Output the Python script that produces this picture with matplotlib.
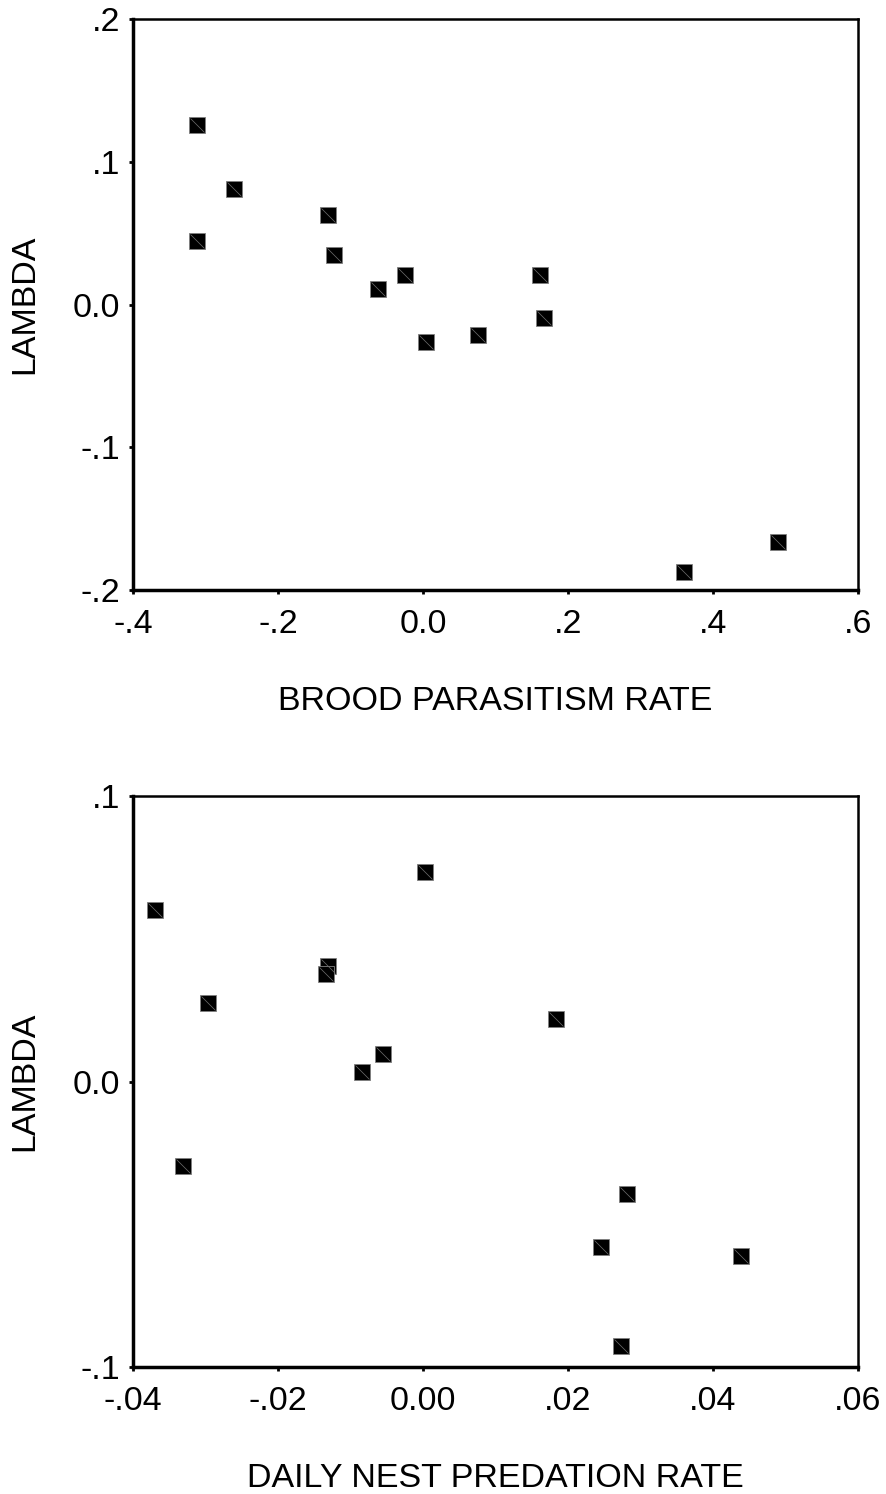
import numpy as np
import matplotlib.pyplot as plt

plt.rcParams['font.family'] = ['Liberation Sans', 'DejaVu Sans']

# top panel: brood parasitism
brood_x = [-0.312, -0.312, -0.261, -0.131, -0.123, -0.062, -0.025, 0.004, 0.076, 0.161, 0.167, 0.360, 0.490]
brood_y = [0.126, 0.045, 0.081, 0.063, 0.035, 0.011, 0.021, -0.026, -0.021, 0.021, -0.009, -0.187, -0.166]
brood_xticks = [-0.4, -0.2, 0.0, 0.2, 0.4, 0.6]
brood_xlabels = ['-.4', '-.2', '0.0', '.2', '.4', '.6']
brood_yticks = [-0.2, -0.1, 0.0, 0.1, 0.2]
brood_ylabels = ['-.2', '-.1', '0.0', '.1', '.2']

# bottom panel: daily nest predation
pred_x = [-0.0370, -0.0297, -0.0331, -0.0131, -0.0134, -0.0084, -0.0055, 0.0003, 0.0183, 0.0281, 0.0246, 0.0439, 0.0274]
pred_y = [0.0600, 0.0276, -0.0297, 0.0406, 0.0378, 0.0033, 0.0097, 0.0736, 0.0220, -0.0395, -0.0580, -0.0610, -0.0926]
pred_xticks = [-0.04, -0.02, 0.0, 0.02, 0.04, 0.06]
pred_xlabels = ['-.04', '-.02', '0.00', '.02', '.04', '.06']
pred_yticks = [-0.1, 0.0, 0.1]
pred_ylabels = ['-.1', '0.0', '.1']

fig = plt.figure(figsize=(8.87, 14.94), dpi=100)
ax1 = fig.add_axes([0.150, 0.605, 0.817, 0.382])
ax2 = fig.add_axes([0.150, 0.0850, 0.817, 0.382])

diag = [(-1, 1), (1, -1)]


def style(ax, x, y, xt, xl, yt, yl, xlabel):
    ax.plot(x, y, 's', color='black', markersize=11,
            markeredgecolor='#808080', markeredgewidth=0.6, clip_on=False)
    # thin diagonal inside each square, like the original symbols
    ax.plot(x, y, linestyle='none', marker=diag, markersize=10,
            markerfacecolor='none', markeredgecolor='#707070',
            markeredgewidth=0.5, clip_on=False)
    ax.set_xlim(xt[0], xt[-1])
    ax.set_ylim(yt[0], yt[-1])
    ax.set_xticks(xt)
    ax.set_xticklabels(xl)
    ax.set_yticks(yt)
    ax.set_yticklabels(yl)
    ax.tick_params(direction='out', length=3, width=2, labelsize=24.5)
    ax.tick_params(axis='x', pad=10.5)
    ax.tick_params(axis='y', pad=6)
    for s in ['left', 'bottom']:
        ax.spines[s].set_linewidth(2.5)
    for s in ['top', 'right']:
        ax.spines[s].set_linewidth(1.8)
    ax.set_xlabel(xlabel, fontsize=24.5, va='center')
    ax.xaxis.set_label_coords(0.5, -0.196)
    ax.set_ylabel('LAMBDA', fontsize=24.5, va='center')
    ax.yaxis.set_label_coords(-0.149, 0.5)


style(ax1, brood_x, brood_y, brood_xticks, brood_xlabels, brood_yticks, brood_ylabels,
      'BROOD PARASITISM RATE')
style(ax2, pred_x, pred_y, pred_xticks, pred_xlabels, pred_yticks, pred_ylabels,
      'DAILY NEST PREDATION RATE')

fig.savefig('out.png', dpi=100)
